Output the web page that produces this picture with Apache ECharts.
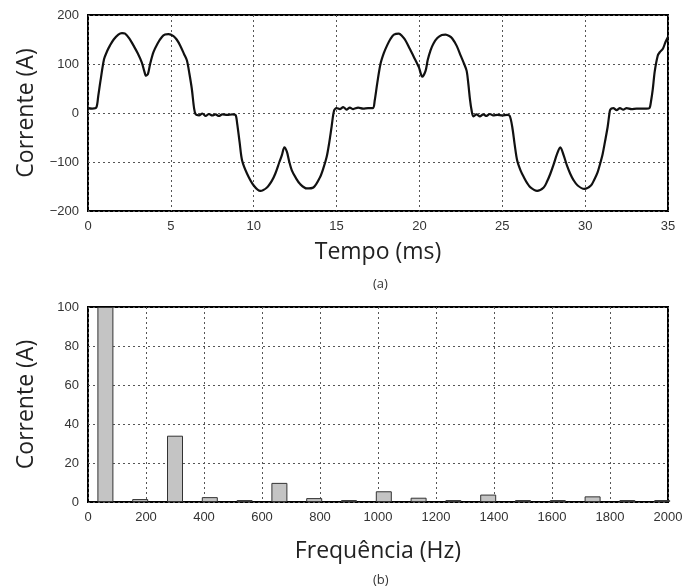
<!DOCTYPE html>
<html>
<head>
<meta charset="utf-8">
<script src="https://cdn.jsdelivr.net/npm/echarts@6/dist/echarts.min.js"></script>
<style>
  html, body { margin: 0; padding: 0; background: #fff; }
  #chart { width: 688px; height: 588px; }
</style>
</head>
<body>
<div id="chart"></div>
<script>
// (a) corrente no tempo
const tempoMs = [
  0, 0.25, 0.5, 0.62, 0.75, 0.97, 1.15, 1.33, 1.55, 1.83, 2.05, 2.24, 2.5, 2.74, 3.0, 3.25, 3.4, 3.5, 3.62, 3.75,
  3.95, 4.2, 4.46, 4.65, 4.86, 5.16, 5.35, 5.56, 5.8, 5.97, 6.12, 6.27, 6.4, 6.5, 6.7, 6.9, 7.1, 7.3, 7.5, 7.7,
  7.9, 8.1, 8.4, 8.7, 8.9, 9.0, 9.15, 9.3, 9.6, 10.0, 10.4, 10.8, 11.1, 11.3, 11.55, 11.7, 11.85, 12.0, 12.15, 12.3,
  12.55, 12.8, 13.2, 13.6, 14.0, 14.2, 14.4, 14.55, 14.7, 14.85, 15.0, 15.2, 15.4, 15.6, 15.8, 16.0, 16.3, 16.6, 16.9, 17.2,
  17.3, 17.46, 17.65, 17.85, 18.05, 18.25, 18.46, 18.76, 18.95, 19.16, 19.4, 19.67, 19.97, 20.17, 20.37, 20.5, 20.67, 20.85, 21.08, 21.35,
  21.58, 21.8, 21.98, 22.25, 22.49, 22.7, 22.85, 22.95, 23.05, 23.15, 23.25, 23.45, 23.65, 23.85, 24.05, 24.25, 24.45, 24.7, 25.0, 25.3,
  25.45, 25.6, 25.75, 25.9, 26.1, 26.3, 26.5, 26.7, 27.1, 27.5, 27.7, 27.9, 28.1, 28.3, 28.5, 28.7, 28.9, 29.1, 29.3, 29.55,
  29.95, 30.35, 30.55, 30.75, 30.9, 31.06, 31.2, 31.36, 31.45, 31.52, 31.7, 31.9, 32.1, 32.3, 32.5, 32.8, 33.1, 33.4, 33.7, 33.88,
  33.98, 34.08, 34.2, 34.38, 34.5, 34.69, 34.85, 35
];
const correnteA = [
  10, 9, 11, 35, 65, 110, 126, 138, 150, 160, 163, 162, 152, 138, 122, 103, 85, 76, 80, 100,
  124, 142, 155, 160, 161, 157, 150, 138, 120, 107, 80, 48, 10, -3, -5, -1, -6, -2, -5, -3,
  -6, -3, -4, -3, -4, -21, -60, -97, -124, -148, -159, -152, -138, -124, -100, -86, -70, -79, -100, -117,
  -133, -145, -154, -152, -131, -113, -90, -62, -28, 5, 10, 8, 12, 7, 11, 8, 11, 9, 10, 10,
  25, 62, 100, 122, 138, 151, 160, 162, 157, 148, 132, 114, 93, 74, 86, 108, 128, 142, 153, 159,
  160, 157, 152, 137, 117, 100, 86, 60, 28, 5, -7, -3, -7, -3, -6, -2, -5, -4, -5, -4,
  -6, -28, -65, -97, -117, -131, -143, -152, -159, -152, -140, -124, -105, -84, -70, -86, -107, -124, -137, -148,
  -155, -148, -136, -121, -104, -83, -58, -28, -5, 7, 10, 6, 10, 7, 10, 8, 9, 9, 9, 10,
  25, 48, 85, 117, 124, 131, 145, 155
];

// (b) espectro harmônico
const frequenciaHz = [60, 180, 300, 420, 540, 660, 780, 900, 1020, 1140, 1260, 1380, 1500, 1620, 1740, 1860, 1980];
const amplitudeA = [100, 1.5, 34, 2.5, 1, 9.8, 2, 1, 5.5, 2.2, 1, 3.8, 1, 1, 2.9, 1, 1];

const gridLine = { show: true, lineStyle: { color: "#555", type: [2, 3], width: 1 } };
const plainNum = v => String(v).replace("-", "\u2212");
const yLabel = { color: "#333", fontSize: 13, fontFamily: "Liberation Sans", margin: 9, formatter: plainNum };
const xLabel = { color: "#333", fontSize: 13, fontFamily: "Liberation Sans", margin: 9, formatter: plainNum };
const nameText = { color: "#222", fontSize: 23, fontFamily: "Open Sans" };
const subText = { fontSize: 13, fontWeight: "normal", color: "#333", fontFamily: "Open Sans" };

let myChart = echarts.init(document.getElementById("chart"));
let option = {
    animation: false,
    title: [
        { text: "(a)", left: 368, top: 273, textStyle: subText },
        { text: "(b)", left: 368, top: 569, textStyle: subText }
    ],
    grid: [
        { left: 88, top: 15, width: 580, height: 196, show: true, borderColor: "#000", borderWidth: 2, backgroundColor: "#fff" },
        { left: 88, top: 307, width: 580, height: 195, show: true, borderColor: "#000", borderWidth: 2, backgroundColor: "#fff" }
    ],
    xAxis: [
        {
            gridIndex: 0, type: "value", min: 0, max: 35, interval: 5,
            axisLine: { show: false }, axisTick: { show: false },
            splitLine: gridLine, axisLabel: xLabel,
            name: "Tempo (ms)", nameLocation: "middle", nameGap: 30, nameTextStyle: nameText
        },
        {
            gridIndex: 1, type: "value", min: 0, max: 2000, interval: 200,
            axisLine: { show: false }, axisTick: { show: false },
            splitLine: gridLine, axisLabel: xLabel,
            name: "Frequência (Hz)", nameLocation: "middle", nameGap: 38, nameTextStyle: nameText
        }
    ],
    yAxis: [
        {
            gridIndex: 0, type: "value", min: -200, max: 200, interval: 100,
            axisLine: { show: false }, axisTick: { show: false },
            splitLine: gridLine, axisLabel: yLabel,
            name: "Corrente (A)", nameLocation: "middle", nameGap: 50, nameTextStyle: nameText
        },
        {
            gridIndex: 1, type: "value", min: 0, max: 100, interval: 20,
            axisLine: { show: false }, axisTick: { show: false },
            splitLine: gridLine, axisLabel: yLabel,
            name: "Corrente (A)", nameLocation: "middle", nameGap: 50, nameTextStyle: nameText
        }
    ],
    series: [
        {
            type: "line",
            xAxisIndex: 0, yAxisIndex: 0,
            data: tempoMs.map((t, i) => [t, correnteA[i]]),
            showSymbol: false,
            smooth: 0.3,
            lineStyle: { color: "#111", width: 2.2 }
        },
        {
            type: "bar",
            xAxisIndex: 1, yAxisIndex: 1,
            data: frequenciaHz.map((f, i) => [f, amplitudeA[i]]),
            barWidth: 16,
            itemStyle: { color: "#c4c4c4", borderColor: "#333", borderWidth: 1 }
        }
    ]
};

myChart.setOption(option);
</script>
</body>
</html>
